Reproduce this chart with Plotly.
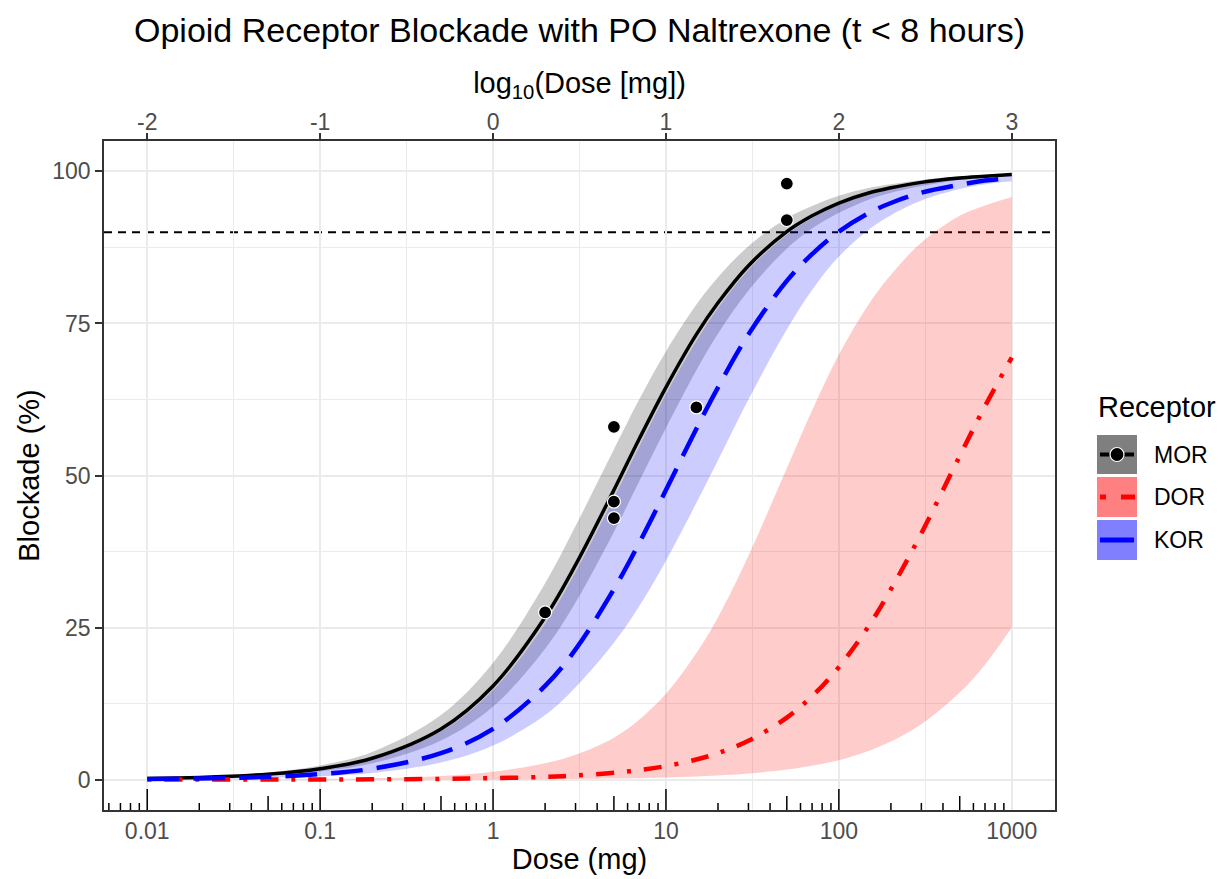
import math
import plotly.graph_objects as go

# ---------------- data ----------------
dose = [0.01, 0.02, 0.05, 0.1, 0.2, 0.5, 1, 2, 3, 5, 7, 10, 15, 20, 30, 50,
        70, 100, 150, 200, 300, 500, 700, 1000]

mor_mid = [0.18, 0.36, 0.90, 1.79, 3.51, 8.33, 15.4, 26.7, 35.3, 47.6, 56.0, 64.5,
           73.2, 78.4, 84.5, 90.1, 92.7, 94.8, 96.5, 97.3, 98.2, 98.9, 99.2, 99.5]
mor_hi = [0.24, 0.47, 1.18, 2.33, 4.55, 10.6, 19.2, 32.3, 41.7, 54.3, 62.5, 70.4,
          78.1, 82.6, 87.7, 92.3, 94.3, 96.0, 97.3, 97.9, 98.6, 99.2, 99.4, 99.6]
mor_lo = [0.14, 0.27, 0.68, 1.35, 2.67, 6.41, 12.0, 21.5, 29.1, 40.7, 49.0, 57.8,
          67.3, 73.3, 80.4, 87.3, 90.6, 93.2, 95.4, 96.5, 97.6, 98.6, 99.0, 99.3]

kor_mid = [0.09, 0.18, 0.45, 0.90, 1.79, 4.35, 8.33, 15.4, 21.4, 31.3, 38.9, 47.6,
           57.7, 64.5, 73.2, 82.0, 86.4, 90.1, 93.2, 94.8, 96.5, 97.8, 98.5, 98.9]
kor_hi = [0.17, 0.34, 0.85, 1.69, 3.33, 7.94, 14.7, 25.6, 34.1, 46.3, 54.7, 63.3,
          72.1, 77.5, 83.8, 89.6, 92.3, 94.5, 96.3, 97.2, 98.1, 98.9, 99.2, 99.4]
kor_lo = [0.06, 0.11, 0.28, 0.56, 1.1, 2.8, 5.6, 10.6, 15.2, 22.5, 28.5, 36.0,
          45.5, 52.5, 62.5, 74.0, 80.5, 86.0, 90.5, 92.8, 95.2, 97.1, 97.9, 98.4]

dor_mid = [0.002, 0.005, 0.011, 0.023, 0.045, 0.11, 0.23, 0.45, 0.68, 1.12, 1.57, 2.22,
           3.30, 4.35, 6.38, 10.2, 13.7, 18.5, 25.4, 31.3, 40.5, 53.2, 61.4, 69.4]
dor_hi = [0.01, 0.02, 0.05, 0.1, 0.22, 0.6, 1.3, 2.7, 4.1, 6.9, 9.85, 14.1,
          20.8, 26.7, 36.8, 51.2, 60.7, 69.9, 78.3, 83.0, 88.3, 92.7, 94.4, 95.8]
dor_lo = [0.0003, 0.001, 0.002, 0.003, 0.007, 0.017, 0.033, 0.067, 0.10, 0.17, 0.23, 0.33,
          0.50, 0.66, 0.99, 1.64, 2.28, 3.2, 4.76, 6.25, 9.1, 14.3, 18.9, 25.0]

obs_dose = [2, 5, 5, 5, 15, 50, 50]
obs_block = [27.5, 58.0, 45.7, 43.0, 61.2, 98.0, 92.0]

threshold = 90

x_ticks = [0.01, 0.1, 1, 10, 100, 1000]
x_ticktext = ["0.01", "0.1", "1", "10", "100", "1000"]
top_ticks = [-2, -1, 0, 1, 2, 3]
top_ticktext = ["-2", "-1", "0", "1", "2", "3"]
y_ticks = [0, 25, 50, 75, 100]

receptors = ["MOR", "DOR", "KOR"]

# ---------------- styling ----------------
FONT = "Liberation Sans, Arial, Helvetica, sans-serif"
W, H = 1218, 879
ML, MR, MT, MB = 104, 163, 141, 69
PW, PH = W - ML - MR, H - MT - MB


def px(xp):
    return (xp - ML) / PW


def py(yp):
    return (H - MB - yp) / PH


fig = go.Figure()


def ribbon(lo, hi, color):
    fig.add_trace(go.Scatter(x=dose, y=lo, mode="lines", line=dict(width=0, shape="spline", color=color),
                             hoverinfo="skip", showlegend=False))
    fig.add_trace(go.Scatter(x=dose, y=hi, mode="lines", line=dict(width=0, shape="spline", color=color),
                             fill="tonexty", fillcolor=color, hoverinfo="skip", showlegend=False))


ribbon(mor_lo, mor_hi, "rgba(0,0,0,0.2)")
ribbon(dor_lo, dor_hi, "rgba(255,0,0,0.2)")
ribbon(kor_lo, kor_hi, "rgba(0,0,255,0.2)")

fig.add_trace(go.Scatter(x=dose, y=mor_mid, mode="lines", name="MOR",
                         line=dict(color="black", width=3.5, shape="spline"), showlegend=False))
fig.add_trace(go.Scatter(x=dose, y=dor_mid, mode="lines", name="DOR",
                         line=dict(color="red", width=4.5, shape="spline", dash="4px,13px,18px,13px"),
                         showlegend=False))
fig.add_trace(go.Scatter(x=dose, y=kor_mid, mode="lines", name="KOR",
                         line=dict(color="blue", width=4.5, shape="spline", dash="32px,14px"),
                         showlegend=False))
fig.add_trace(go.Scatter(x=obs_dose, y=obs_block, mode="markers", name="MOR data",
                         marker=dict(color="black", size=13, line=dict(color="white", width=1.2)),
                         showlegend=False))

shapes = []
# threshold line (beneath ribbons)
shapes.append(dict(type="line", xref="paper", x0=0, x1=1, yref="y", y0=threshold, y1=threshold,
                   line=dict(color="black", width=2, dash="8px,6px"), layer="between"))

# log ticks along the bottom of the panel
for d in range(-3, 3):
    for k in range(1, 10):
        lv = d + math.log10(k)
        if lv < -2.25 or lv > 3.25:
            continue
        L = 21 if k == 1 else (14 if k == 5 else 7)
        shapes.append(dict(type="line", xref="x2", x0=lv, x1=lv, yref="paper", y0=0, y1=L / PH,
                           line=dict(color="black", width=1.5), layer="above"))

# manual legend
key_x0, key_x1 = 1097, 1137
key_rows = [(435, 474), (477, 517), (520, 560)]
key_fill = ["#7f7f7f", "#ff8080", "#8080ff"]
for (y0, y1), fc in zip(key_rows, key_fill):
    shapes.append(dict(type="rect", xref="paper", yref="paper", x0=px(key_x0), x1=px(key_x1),
                       y0=py(y1), y1=py(y0), fillcolor=fc, line=dict(width=0), layer="above"))
# MOR key: line + point
yc = (key_rows[0][0] + key_rows[0][1]) / 2
shapes.append(dict(type="line", xref="paper", yref="paper", x0=px(1100), x1=px(1134), y0=py(yc), y1=py(yc),
                   line=dict(color="black", width=4), layer="above"))
shapes.append(dict(type="circle", xref="paper", yref="paper", x0=px(1117 - 7), x1=px(1117 + 7),
                   y0=py(yc + 7), y1=py(yc - 7), fillcolor="black", line=dict(color="white", width=1.2),
                   layer="above"))
# DOR key: dot-dash
yc = (key_rows[1][0] + key_rows[1][1]) / 2
shapes.append(dict(type="line", xref="paper", yref="paper", x0=px(1100), x1=px(1106), y0=py(yc), y1=py(yc),
                   line=dict(color="red", width=5), layer="above"))
shapes.append(dict(type="line", xref="paper", yref="paper", x0=px(1121), x1=px(1135), y0=py(yc), y1=py(yc),
                   line=dict(color="red", width=5), layer="above"))
# KOR key: solid segment
yc = (key_rows[2][0] + key_rows[2][1]) / 2
shapes.append(dict(type="line", xref="paper", yref="paper", x0=px(1100), x1=px(1134), y0=py(yc), y1=py(yc),
                   line=dict(color="blue", width=5), layer="above"))

annotations = [dict(text="Receptor", xref="paper", yref="paper", x=px(1096), y=py(407),
                    xanchor="left", yanchor="middle", showarrow=False,
                    font=dict(size=29, color="black", family=FONT))]
for name, (y0, y1) in zip(receptors, key_rows):
    annotations.append(dict(text=name, xref="paper", yref="paper", x=px(1152), y=py((y0 + y1) / 2),
                            xanchor="left", yanchor="middle", showarrow=False,
                            font=dict(size=23, color="black", family=FONT)))

fig.update_layout(
    width=W, height=H, autosize=False,
    margin=dict(l=ML, r=MR, t=MT, b=MB, autoexpand=False),
    plot_bgcolor="white", paper_bgcolor="white",
    showlegend=False,
    font=dict(family=FONT, color="black"),
    title=dict(text="Opioid Receptor Blockade with PO Naltrexone (t < 8 hours)",
               x=0.5, xref="paper", xanchor="center", y=1 - 30 / H, yref="container", yanchor="middle",
               font=dict(size=34, color="black", family=FONT)),
    xaxis=dict(type="log", range=[-2.25, 3.25], tickmode="array", tickvals=x_ticks, ticktext=x_ticktext,
               showgrid=False, zeroline=False, showline=True, mirror=True, linecolor="#333333", linewidth=1.5,
               ticks="", automargin=False,
               tickfont=dict(size=23, color="#4d4d4d", family=FONT),
               title=dict(text="Dose (mg)", font=dict(size=29, color="black", family=FONT), standoff=5)),
    xaxis2=dict(overlaying="x", side="top", anchor="y", range=[-2.25, 3.25], tickmode="array",
                tickvals=top_ticks, ticktext=top_ticktext, automargin=False,
                showgrid=True, gridcolor="#ebebeb", gridwidth=2,
                minor=dict(tickvals=[-1.5, -0.5, 0.5, 1.5, 2.5], showgrid=True, gridcolor="#ebebeb",
                           gridwidth=1, ticks=""),
                zeroline=False, showline=False,
                ticks="outside", ticklen=7, tickwidth=1.5, tickcolor="#333333",
                ticklabelstandoff=-6,
                tickfont=dict(size=23, color="#4d4d4d", family=FONT),
                title=dict(text="log<sub>10</sub>(Dose [mg])", font=dict(size=29, color="black", family=FONT),
                           standoff=6)),
    yaxis=dict(range=[-5, 105], tickmode="array", tickvals=y_ticks, automargin=False,
               showgrid=True, gridcolor="#ebebeb", gridwidth=2,
               minor=dict(tickvals=[12.5, 37.5, 62.5, 87.5], showgrid=True, gridcolor="#ebebeb",
                          gridwidth=1, ticks=""),
               zeroline=False, showline=True, mirror=True, linecolor="#333333", linewidth=1.5,
               ticks="outside", ticklen=7, tickwidth=1.5, tickcolor="#333333",
               tickfont=dict(size=23, color="#4d4d4d", family=FONT),
               title=dict(text="Blockade (%)", font=dict(size=29, color="black", family=FONT), standoff=4)),
    shapes=shapes,
    annotations=annotations,
)

fig.write_html("out.html", config={"displayModeBar": False},
               post_script="document.body.style.margin='0px';document.body.style.overflow='hidden';")
